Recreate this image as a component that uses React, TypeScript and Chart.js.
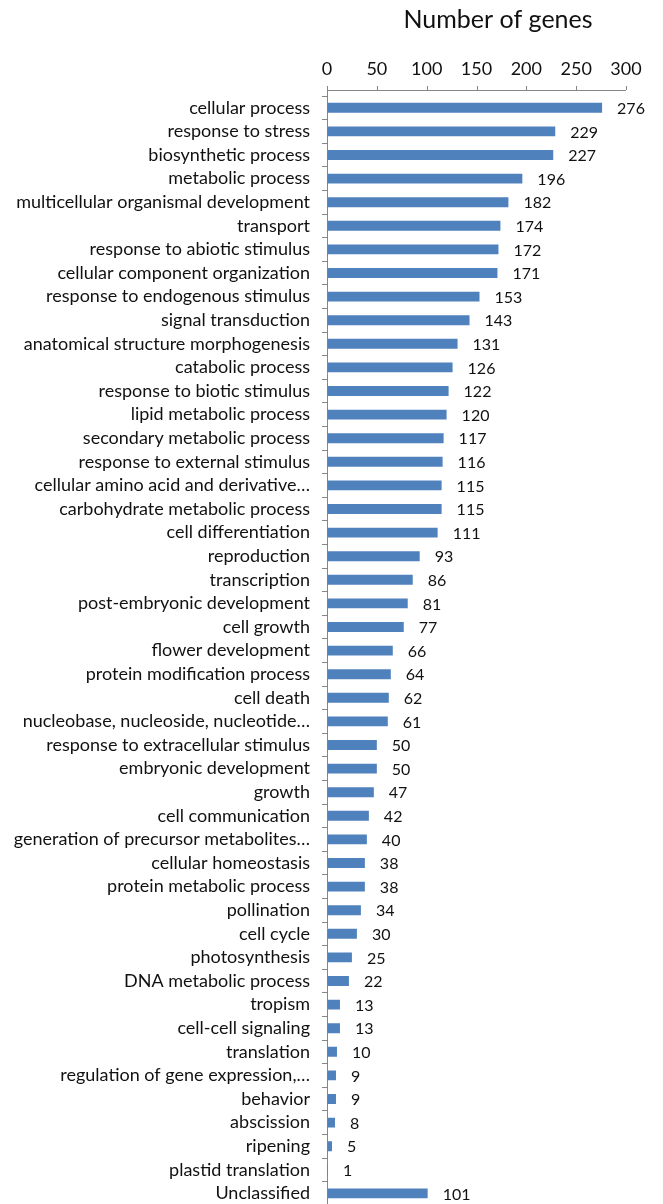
import React, { useEffect, useRef } from "react";
import { Chart, registerables } from "chart.js";

Chart.register(...registerables);

const categories: string[] = [
  "cellular process",
  "response to stress",
  "biosynthetic process",
  "metabolic process",
  "multicellular organismal development",
  "transport",
  "response to abiotic stimulus",
  "cellular component organization",
  "response to endogenous stimulus",
  "signal transduction",
  "anatomical structure morphogenesis",
  "catabolic process",
  "response to biotic stimulus",
  "lipid metabolic process",
  "secondary metabolic process",
  "response to external stimulus",
  "cellular amino acid and derivative…",
  "carbohydrate metabolic process",
  "cell differentiation",
  "reproduction",
  "transcription",
  "post-embryonic development",
  "cell growth",
  "flower development",
  "protein modification process",
  "cell death",
  "nucleobase, nucleoside, nucleotide…",
  "response to extracellular stimulus",
  "embryonic development",
  "growth",
  "cell communication",
  "generation of precursor metabolites…",
  "cellular homeostasis",
  "protein metabolic process",
  "pollination",
  "cell cycle",
  "photosynthesis",
  "DNA metabolic process",
  "tropism",
  "cell-cell signaling",
  "translation",
  "regulation of gene expression,…",
  "behavior",
  "abscission",
  "ripening",
  "plastid translation",
  "Unclassified",
];

const geneCounts: number[] = [
  276, 229, 227, 196, 182, 174, 172, 171, 153, 143, 131, 126, 122, 120, 117,
  116, 115, 115, 111, 93, 86, 81, 77, 66, 64, 62, 61, 50, 50, 47, 42, 40, 38,
  38, 34, 30, 25, 22, 13, 13, 10, 9, 9, 8, 5, 1, 101,
];

const axisTitle = "Number of genes";
const xMin = 0;
const xMax = 300;
const xStep = 50;

const FONT = "Lato, 'Open Sans', sans-serif";
const AXIS_COLOR = "#868686";
const BAR_COLOR = "#4F81BD";
const TEXT_COLOR = "#111111";

const decorPlugin = {
  id: "decor",
  afterDatasetsDraw(chart: any) {
    const ctx = chart.ctx;
    const area = chart.chartArea;
    const xScale = chart.scales.x;
    const axisY = area.top - 6;
    ctx.save();
    ctx.strokeStyle = AXIS_COLOR;
    ctx.lineWidth = 1;
    ctx.beginPath();
    ctx.moveTo(area.left, axisY + 0.5);
    ctx.lineTo(area.right, axisY + 0.5);
    xScale.ticks.forEach((t: any) => {
      const x = Math.round(xScale.getPixelForValue(t.value)) + 0.5;
      ctx.moveTo(x, axisY);
      ctx.lineTo(x, axisY - 4);
    });
    const lx = Math.round(area.left) + 0.5;
    ctx.moveTo(lx, axisY);
    ctx.lineTo(lx, area.top);
    ctx.stroke();

    ctx.fillStyle = TEXT_COLOR;
    ctx.font = `16px ${FONT}`;
    ctx.textAlign = "left";
    ctx.textBaseline = "middle";
    const meta = chart.getDatasetMeta(0);
    meta.data.forEach((bar: any, i: number) => {
      ctx.fillText(String(geneCounts[i]), bar.x + 15, bar.y + 1);
    });

    ctx.font = `25px ${FONT}`;
    ctx.textAlign = "center";
    ctx.textBaseline = "alphabetic";
    ctx.fillText(axisTitle, 498, 28);
    ctx.restore();
  },
};

export default function App() {
  const canvasRef = useRef<HTMLCanvasElement | null>(null);

  useEffect(() => {
    document.body.style.margin = "0";
    const canvas = canvasRef.current;
    if (!canvas) return;
    const chart = new Chart(canvas, {
      type: "bar",
      data: {
        labels: categories,
        datasets: [
          {
            data: geneCounts,
            backgroundColor: BAR_COLOR,
            borderWidth: 0,
            barPercentage: 0.42,
            categoryPercentage: 1,
            minBarLength: 1,
          },
        ],
      },
      options: {
        indexAxis: "y",
        responsive: false,
        animation: false,
        maintainAspectRatio: false,
        layout: { padding: { top: 0, right: 37, bottom: 0, left: 0 } },
        plugins: {
          legend: { display: false },
          tooltip: { enabled: false },
          title: { display: false },
        },
        scales: {
          x: {
            type: "linear",
            position: "top",
            min: xMin,
            max: xMax,
            ticks: {
              stepSize: xStep,
              color: TEXT_COLOR,
              font: { family: FONT, size: 18 },
              padding: 16,
            },
            grid: { display: true, drawOnChartArea: false, drawTicks: false },
            border: { display: false },
            afterFit(scale: any) {
              scale.height = 96;
            },
          },
          y: {
            type: "category",
            position: "left",
            ticks: {
              color: TEXT_COLOR,
              font: { family: FONT, size: 18 },
              padding: 12,
              autoSkip: false,
            },
            grid: {
              display: true,
              drawOnChartArea: false,
              drawTicks: true,
              tickLength: 5,
              offset: true,
              color: AXIS_COLOR,
            },
            border: { display: true, color: AXIS_COLOR },
            afterFit(scale: any) {
              scale.width = 327;
            },
          },
        },
      },
      plugins: [decorPlugin],
    });
    return () => chart.destroy();
  }, []);

  return (
    <div style={{ width: 663, height: 1204, overflow: "hidden" }}>
      <canvas ref={canvasRef} width={663} height={1228} />
    </div>
  );
}
